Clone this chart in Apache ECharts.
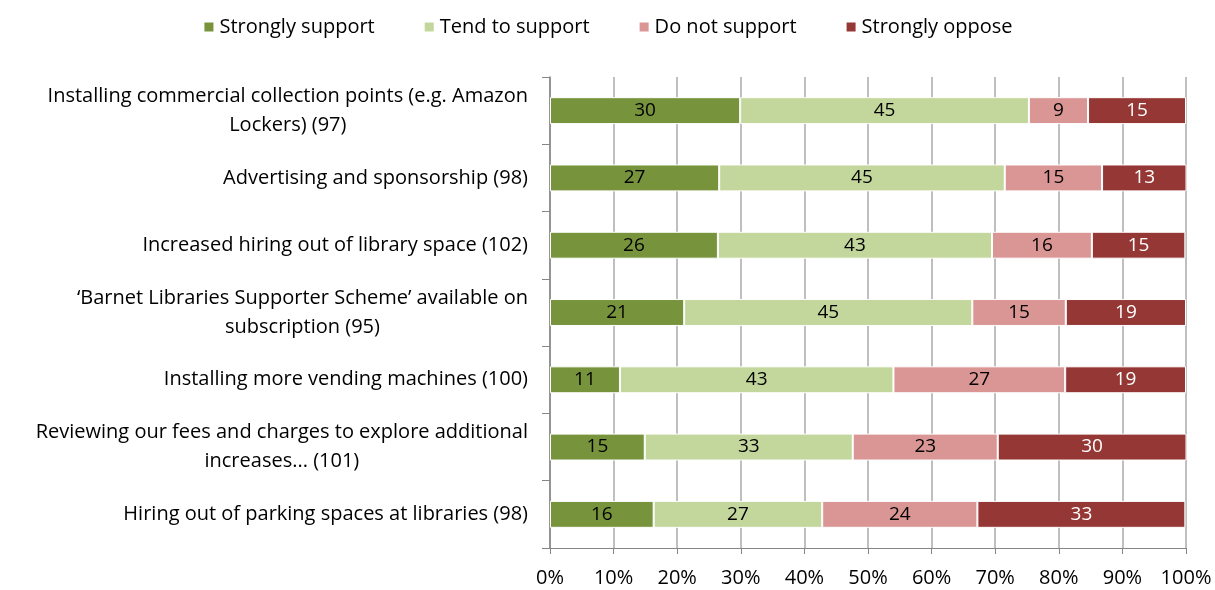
<!DOCTYPE html>
<html>
<head>
<meta charset="utf-8">
<script src="https://cdn.jsdelivr.net/npm/echarts@6/dist/echarts.min.js"></script>
<style>
  html, body { margin: 0; padding: 0; background: #fff; }
  #main { width: 1215px; height: 590px; }
</style>
</head>
<body>
<div id="main"></div>
<script>
  // categories, bottom to top (category axis starts at the bottom)
  var categories = [
    'Hiring out of parking spaces at libraries (98)',
    'Reviewing our fees and charges to explore additional\nincreases... (101)',
    'Installing more vending machines (100)',
    '\u2018Barnet Libraries Supporter Scheme\u2019 available on\nsubscription (95)',
    'Increased hiring out of library space (102)',
    'Advertising and sponsorship (98)',
    'Installing commercial collection points (e.g. Amazon\nLockers) (97)'
  ];
  // share of answers, percent (label shows the rounded value)
  var stronglySupport = [16.3, 14.9, 11, 21.1, 26.4, 26.6, 29.9];
  var tendToSupport   = [26.5, 32.7, 43, 45.3, 43.1, 44.9, 45.4];
  var doNotSupport    = [24.4, 22.8, 27, 14.7, 15.7, 15.3, 9.3];
  var stronglyOppose  = [32.7, 29.7, 19, 18.9, 14.7, 13.3, 15.4];
  var xTicks = [0, 10, 20, 30, 40, 50, 60, 70, 80, 90, 100];

  var font = '"Open Sans", Lato, sans-serif';
  var myChart = echarts.init(document.getElementById('main'));

  function bar(name, data, color, labelColor) {
    return {
      name: name,
      type: 'bar',
      stack: 'all',
      data: data,
      barWidth: '40%',
      itemStyle: { color: color, borderColor: '#fff', borderWidth: 1 },
      label: {
        show: true,
        position: 'inside',
        color: labelColor,
        fontFamily: font,
        fontSize: 19,
        formatter: function (p) { return Math.round(p.value); }
      }
    };
  }

  var option = {
    animation: false,
    textStyle: { fontFamily: font },
    legend: {
      top: 12,
      left: 'center',
      itemWidth: 11,
      itemHeight: 11,
      itemGap: 48,
      icon: 'rect',
      textStyle: { fontSize: 20, color: '#000', fontFamily: font },
      data: ['Strongly support', 'Tend to support', 'Do not support', 'Strongly oppose']
    },
    grid: { left: 550, right: 29, top: 77, bottom: 42 },
    xAxis: {
      type: 'value',
      min: 0,
      max: 100,
      interval: 10,
      axisLine: { show: true, lineStyle: { color: '#868686' } },
      axisTick: { show: true, length: 6, lineStyle: { color: '#868686' } },
      splitLine: { show: true, lineStyle: { color: '#bfbfbf', width: 2 } },
      axisLabel: {
        fontSize: 20,
        color: '#000',
        margin: 20,
        fontFamily: font,
        formatter: function (v) { return xTicks.indexOf(v) >= 0 ? v + '%' : ''; }
      }
    },
    yAxis: {
      type: 'category',
      data: categories,
      axisLine: { show: true, lineStyle: { color: '#868686', width: 1.5 } },
      axisTick: { show: true, length: 8, lineStyle: { color: '#868686' } },
      axisLabel: {
        margin: 22,
        color: '#000',
        fontSize: 20,
        fontFamily: font,
        formatter: function (v) {
          return v.split('\n').map(function (s) { return '{c|' + s + '}'; }).join('\n');
        },
        rich: {
          c: { align: 'center', fontSize: 20, lineHeight: 29, color: '#000', fontFamily: font }
        }
      }
    },
    series: [
      bar('Strongly support', stronglySupport, '#77933c', '#000'),
      bar('Tend to support', tendToSupport, '#c3d69b', '#000'),
      bar('Do not support', doNotSupport, '#d99694', '#000'),
      bar('Strongly oppose', stronglyOppose, '#953735', '#fff')
    ]
  };
  myChart.setOption(option);
</script>
</body>
</html>
